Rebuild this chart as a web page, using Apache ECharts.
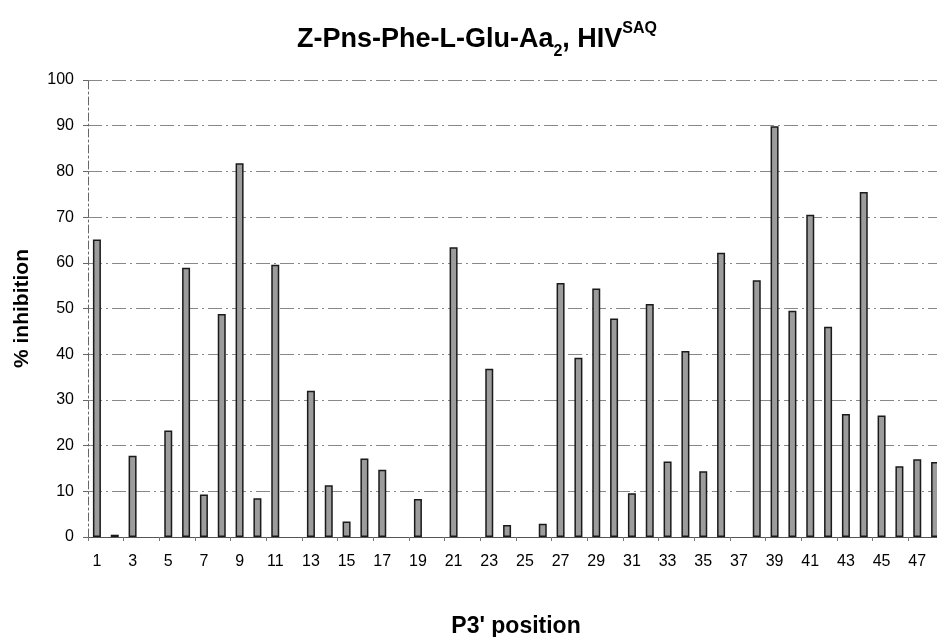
<!DOCTYPE html>
<html lang="en">
<head>
    <meta charset="utf-8">
    <title>Z-Pns-Phe-L-Glu-Aa2, HIV SAQ</title>
    <script src="https://cdn.jsdelivr.net/npm/echarts@6/dist/echarts.min.js"></script>
    <style>
        html, body { margin: 0; padding: 0; background: #ffffff; }
        #wrap { width: 937px; height: 637px; overflow: hidden; position: relative; }
        /* the original plot runs past the right edge of the picture */
        #chart { width: 944px; height: 637px; position: absolute; left: 0; top: 0; }
    </style>
</head>
<body>
<div id="wrap"><div id="chart"></div></div>
<script>
    // P3' positions 1..48
    var positions = [];
    for (var i = 1; i <= 48; i++) positions.push(String(i));

    // % inhibition
    var inhibition = [
        65.1, 0.5, 17.8, 0, 23.3, 58.9, 9.3, 48.8, 81.8, 8.5,
        59.6, 0, 32.0, 11.3, 3.4, 17.2, 14.7, 0, 8.3, 0,
        63.4, 0, 36.8, 2.6, 0, 2.9, 55.6, 39.2, 54.4, 47.8,
        9.6, 51.0, 16.5, 40.7, 14.4, 62.2, 0, 56.2, 89.9, 49.5,
        70.5, 46.0, 26.9, 75.5, 26.6, 15.5, 17.0, 16.4
    ];

    var yTicks = [0, 10, 20, 30, 40, 50, 60, 70, 80, 90, 100];

    var chart = echarts.init(document.getElementById('chart'));
    var font = '"Liberation Sans", Arial, sans-serif';

    // zero bars show nothing in the original
    var barData = inhibition.map(function (v) { return v === 0 ? '-' : v; });

    var option = {
        backgroundColor: '#ffffff',
        animation: false,
        title: {
            text: '{t|Z-Pns-Phe-L-Glu-Aa}{sub|2}{t|, HIV}{sup|SAQ}',
            left: 472,
            textAlign: 'center',
            top: 16,
            textStyle: {
                rich: {
                    t: {fontFamily: font, fontSize: 27, fontWeight: 'bold', color: '#000', verticalAlign: 'bottom', lineHeight: 32},
                    sub: {fontFamily: font, fontSize: 16, fontWeight: 'bold', color: '#000', verticalAlign: 'bottom', padding: [0, 0, -7, 0], lineHeight: 32},
                    sup: {fontFamily: font, fontSize: 16, fontWeight: 'bold', color: '#000', verticalAlign: 'top', padding: [0, 0, 14, 0], lineHeight: 32}
                }
            }
        },
        grid: {
            left: 88,
            right: 0,
            top: 80,
            bottom: 100,
            outerBoundsMode: 'none'
        },
        xAxis: {
            type: 'category',
            data: positions,
            name: "P3' position",
            nameLocation: 'middle',
            nameGap: 78,
            nameTextStyle: {fontFamily: font, fontSize: 23, fontWeight: 'bold', color: '#000'},
            axisLine: {lineStyle: {color: '#555', width: 1}},
            axisTick: {show: true, length: 4, lineStyle: {color: '#777'}},
            axisLabel: {interval: 1, fontFamily: font, fontSize: 16, color: '#000', margin: 17}
        },
        yAxis: {
            type: 'value',
            min: yTicks[0],
            max: yTicks[yTicks.length - 1],
            interval: 10,
            name: '% inhibition',
            nameLocation: 'middle',
            nameGap: 55,
            nameTextStyle: {fontFamily: font, fontSize: 21, fontWeight: 'bold', color: '#000'},
            axisLine: {show: true, lineStyle: {color: '#666', type: [8, 3, 2, 3]}},
            axisTick: {show: true, length: 5, lineStyle: {color: '#666'}},
            axisLabel: {fontFamily: font, fontSize: 16, color: '#000', margin: 14},
            splitLine: {show: true, lineStyle: {color: '#888', width: 1, type: [14, 4, 2, 4]}}
        },
        series: [
            {
                name: '% inhibition',
                type: 'bar',
                data: barData,
                barWidth: 8,
                itemStyle: {color: '#9c9c9c', borderColor: '#1a1a1a', borderWidth: 1.5}
            }
        ]
    };
    chart.setOption(option);
</script>
</body>
</html>
